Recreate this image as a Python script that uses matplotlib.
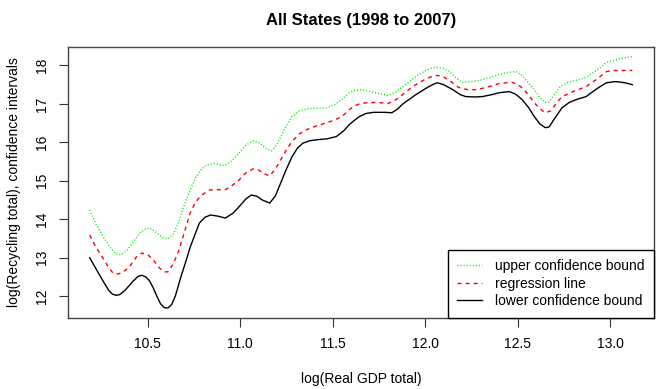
import matplotlib
matplotlib.use("Agg")
import matplotlib.pyplot as plt
from matplotlib import rcParams

rcParams['font.family'] = ['Liberation Sans', 'DejaVu Sans']
rcParams['font.size'] = 10

# lower confidence bound (black, solid)
x_low = [10.187, 10.22, 10.257, 10.29, 10.31, 10.33, 10.35, 10.38, 10.42, 10.45,
         10.47, 10.49, 10.51, 10.53, 10.55, 10.57, 10.59, 10.61, 10.63, 10.65,
         10.68, 10.71, 10.73, 10.76, 10.78, 10.81, 10.84, 10.88, 10.92, 10.96,
         10.99, 11.03, 11.06, 11.09, 11.12, 11.16, 11.19, 11.22, 11.25, 11.28,
         11.31, 11.34, 11.375, 11.42, 11.47, 11.52, 11.56, 11.59, 11.62, 11.645,
         11.68, 11.72, 11.78, 11.82, 11.85, 11.88, 11.95, 12.01, 12.04, 12.066,
         12.10, 12.15, 12.19, 12.22, 12.27, 12.31, 12.36, 12.40, 12.455, 12.49,
         12.525, 12.56, 12.59, 12.62, 12.65, 12.67, 12.70, 12.74, 12.78, 12.816,
         12.87, 12.93, 12.98, 13.03, 13.08, 13.12]
y_low = [13.00, 12.72, 12.41, 12.15, 12.05, 12.02, 12.04, 12.16, 12.38, 12.52,
         12.54, 12.50, 12.40, 12.22, 12.00, 11.80, 11.70, 11.69, 11.78, 12.00,
         12.50, 12.95, 13.27, 13.65, 13.90, 14.05, 14.11, 14.08, 14.03, 14.15,
         14.30, 14.52, 14.63, 14.60, 14.50, 14.42, 14.60, 14.95, 15.30, 15.62,
         15.85, 15.98, 16.04, 16.07, 16.09, 16.15, 16.30, 16.46, 16.58, 16.67,
         16.75, 16.78, 16.78, 16.77, 16.86, 17.00, 17.24, 17.42, 17.50, 17.55,
         17.50, 17.37, 17.24, 17.19, 17.18, 17.19, 17.24, 17.29, 17.32, 17.25,
         17.11, 16.90, 16.67, 16.48, 16.38, 16.40, 16.62, 16.90, 17.04, 17.11,
         17.19, 17.40, 17.55, 17.58, 17.55, 17.50]

# regression line (red, dashed)
x_reg = [10.187, 10.22, 10.257, 10.29, 10.31, 10.33, 10.36, 10.40, 10.44, 10.47,
         10.50, 10.53, 10.56, 10.59, 10.61, 10.64, 10.67, 10.70, 10.73, 10.76,
         10.79, 10.835, 10.88, 10.916, 10.95, 10.99, 11.03, 11.07, 11.10, 11.13,
         11.16, 11.19, 11.22, 11.25, 11.28, 11.32, 11.36, 11.42, 11.47, 11.51,
         11.55, 11.59, 11.62, 11.645, 11.68, 11.74, 11.80, 11.84, 11.88, 11.92,
         11.95, 12.00, 12.04, 12.066, 12.10, 12.14, 12.18, 12.23, 12.28, 12.34,
         12.40, 12.47, 12.50, 12.53, 12.56, 12.59, 12.62, 12.65, 12.68, 12.71,
         12.74, 12.80, 12.87, 12.93, 12.98, 13.02, 13.06, 13.12]
y_reg = [13.59, 13.28, 13.00, 12.74, 12.62, 12.57, 12.60, 12.75, 13.02, 13.12,
         13.08, 12.95, 12.75, 12.63, 12.63, 12.85, 13.20, 13.68, 14.16, 14.45,
         14.62, 14.76, 14.77, 14.76, 14.85, 15.00, 15.20, 15.31, 15.28, 15.18,
         15.13, 15.30, 15.55, 15.80, 16.02, 16.22, 16.33, 16.44, 16.51, 16.58,
         16.67, 16.85, 16.95, 17.00, 17.03, 17.04, 17.01, 17.10, 17.25, 17.40,
         17.50, 17.64, 17.72, 17.74, 17.70, 17.58, 17.43, 17.37, 17.37, 17.44,
         17.53, 17.56, 17.50, 17.40, 17.22, 17.03, 16.87, 16.77, 16.82, 17.02,
         17.19, 17.32, 17.45, 17.65, 17.84, 17.87, 17.87, 17.87]

# upper confidence bound (green, dotted)
x_up = [10.187, 10.22, 10.26, 10.30, 10.33, 10.36, 10.39, 10.42, 10.46, 10.495,
        10.52, 10.55, 10.58, 10.61, 10.64, 10.67, 10.70, 10.73, 10.76, 10.79,
        10.82, 10.86, 10.916, 10.95, 10.99, 11.03, 11.07, 11.10, 11.14, 11.17,
        11.20, 11.24, 11.28, 11.32, 11.375, 11.47, 11.51, 11.55, 11.59, 11.62,
        11.66, 11.72, 11.80, 11.84, 11.88, 11.92, 11.95, 12.00, 12.04, 12.066,
        12.10, 12.13, 12.17, 12.20, 12.25, 12.31, 12.36, 12.40, 12.45, 12.49,
        12.52, 12.54, 12.57, 12.59, 12.62, 12.65, 12.67, 12.70, 12.73, 12.77,
        12.82, 12.87, 12.93, 12.98, 13.02, 13.05, 13.12]
y_up = [14.24, 13.88, 13.55, 13.25, 13.09, 13.08, 13.20, 13.40, 13.65, 13.77,
        13.75, 13.65, 13.52, 13.49, 13.62, 13.95, 14.40, 14.76, 15.08, 15.30,
        15.41, 15.45, 15.39, 15.50, 15.70, 15.92, 16.04, 16.00, 15.84, 15.78,
        15.95, 16.35, 16.67, 16.82, 16.88, 16.90, 16.98, 17.11, 17.29, 17.35,
        17.37, 17.30, 17.22, 17.30, 17.45, 17.60, 17.71, 17.86, 17.94, 17.95,
        17.92, 17.85, 17.66, 17.56, 17.58, 17.63, 17.70, 17.77, 17.82, 17.84,
        17.76, 17.65, 17.48, 17.37, 17.17, 17.04, 17.05, 17.25, 17.45, 17.56,
        17.62, 17.69, 17.88, 18.08, 18.13, 18.17, 18.23]

fig = plt.figure(figsize=(6.63, 3.89), dpi=100)
ax = fig.add_axes([0.1026, 0.1825, 0.8838, 0.6967])

ax.plot(x_up, y_up, color='#00ee00', lw=1.0, dashes=(0.8, 1.4),
        label='upper confidence bound')
ax.plot(x_reg, y_reg, color='#ff0000', lw=1.0, dashes=(2.9, 2.9),
        label='regression line')
ax.plot(x_low, y_low, color='black', lw=1.0, label='lower confidence bound')

ax.set_xlim(10.07, 13.237)
ax.set_ylim(11.43, 18.48)
ax.set_xticks([10.5, 11.0, 11.5, 12.0, 12.5, 13.0])
ax.set_yticks([12, 13, 14, 15, 16, 17, 18])
ax.set_yticklabels(['12', '13', '14', '15', '16', '17', '18'], rotation=90, va='center')
ax.tick_params(direction='out', length=6.5, width=0.8, color='#333333', pad=7)
for s in ax.spines.values():
    s.set_color('#444444')
    s.set_linewidth(1.0)

ax.set_xlabel('log(Real GDP total)', labelpad=15)
ax.set_ylabel('log(Recycling total), confidence intervals', labelpad=10)
ax.set_title('All States (1998 to 2007)', fontsize=12, fontweight='bold', pad=16)

leg = ax.legend(loc='lower right', borderaxespad=0, fancybox=False,
                edgecolor='black', framealpha=1, handlelength=1.8,
                handletextpad=0.9, borderpad=0.7, labelspacing=0.25)
leg.get_frame().set_linewidth(1.0)

fig.savefig('out.png', dpi=100)
